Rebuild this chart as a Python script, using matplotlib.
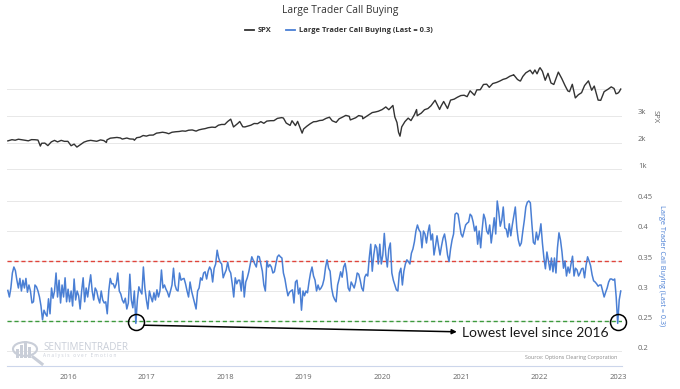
import matplotlib
matplotlib.use('Agg')
import matplotlib.pyplot as plt
import matplotlib.transforms as mtransforms
from matplotlib.lines import Line2D
from matplotlib.patches import Circle, Rectangle
import pandas as pd

# ---------------- data ----------------
title = "Large Trader Call Buying"
spx_label = "SPX"
ltcb_label = "Large Trader Call Buying (Last = 0.3)"
annotation_text = "Lowest level since 2016"
source_text = "Source: Options Clearing Corporation"
year_ticks = ["2016", "2017", "2018", "2019", "2020", "2021", "2022", "2023"]
spx_ticks = [1000, 2000, 3000, 4000]
spx_tick_labels = ["1k", "2k", "3k", ""]
ltcb_ticks = [0.2, 0.25, 0.3, 0.35, 0.4, 0.45]
ltcb_tick_labels = ["0.2", "0.25", "0.3", "0.35", "0.4", "0.45"]
upper_level = 0.35
lower_level = 0.25

spx_dates = [
    "2015-03-27", "2015-04-15", "2015-04-30", "2015-05-15", "2015-05-29", "2015-06-15", "2015-06-30",
    "2015-07-15", "2015-07-31", "2015-08-14", "2015-08-25", "2015-08-31", "2015-09-15", "2015-09-29",
    "2015-10-15", "2015-10-30", "2015-11-13", "2015-11-30", "2015-12-15", "2015-12-31",
    "2016-01-15", "2016-01-29", "2016-02-11", "2016-02-29", "2016-03-15", "2016-03-31", "2016-04-15",
    "2016-04-29", "2016-05-13", "2016-05-31", "2016-06-15", "2016-06-27", "2016-06-30", "2016-07-15",
    "2016-07-29", "2016-08-15", "2016-08-31", "2016-09-09", "2016-09-30", "2016-10-14", "2016-10-31",
    "2016-11-04", "2016-11-15", "2016-11-30", "2016-12-15", "2016-12-30",
    "2017-01-13", "2017-01-31", "2017-02-15", "2017-02-28", "2017-03-15", "2017-03-31", "2017-04-13",
    "2017-04-28", "2017-05-15", "2017-05-31", "2017-06-15", "2017-06-30", "2017-07-14", "2017-07-31",
    "2017-08-18", "2017-08-31", "2017-09-15", "2017-09-29", "2017-10-13", "2017-10-31", "2017-11-15",
    "2017-11-30", "2017-12-15", "2017-12-29",
    "2018-01-12", "2018-01-26", "2018-02-08", "2018-02-28", "2018-03-09", "2018-03-23", "2018-04-02",
    "2018-04-30", "2018-05-15", "2018-05-31", "2018-06-15", "2018-06-29", "2018-07-13", "2018-07-31",
    "2018-08-15", "2018-08-31", "2018-09-20", "2018-09-28", "2018-10-11", "2018-10-29", "2018-11-07",
    "2018-11-23", "2018-12-03", "2018-12-24", "2018-12-31",
    "2019-01-15", "2019-01-31", "2019-02-15", "2019-02-28", "2019-03-15", "2019-03-29", "2019-04-15",
    "2019-04-30", "2019-05-13", "2019-05-31", "2019-06-14", "2019-06-28", "2019-07-15", "2019-07-31",
    "2019-08-05", "2019-08-30", "2019-09-13", "2019-09-30", "2019-10-02", "2019-10-31", "2019-11-15",
    "2019-11-29", "2019-12-13", "2019-12-31",
    "2020-01-17", "2020-01-31", "2020-02-19", "2020-02-28", "2020-03-09", "2020-03-16", "2020-03-23",
    "2020-03-31", "2020-04-15", "2020-04-30", "2020-05-13", "2020-05-29", "2020-06-08", "2020-06-11",
    "2020-06-30", "2020-07-15", "2020-07-31", "2020-08-14", "2020-09-02", "2020-09-23", "2020-09-30",
    "2020-10-12", "2020-10-30", "2020-11-13", "2020-11-30", "2020-12-15", "2020-12-31",
    "2021-01-15", "2021-01-29", "2021-02-12", "2021-03-04", "2021-03-15", "2021-03-31", "2021-04-15",
    "2021-04-30", "2021-05-12", "2021-05-28", "2021-06-15", "2021-06-30", "2021-07-15", "2021-07-30",
    "2021-08-16", "2021-08-31", "2021-09-02", "2021-09-20", "2021-09-30", "2021-10-04", "2021-10-15",
    "2021-10-29", "2021-11-18", "2021-11-30", "2021-12-10", "2021-12-20", "2021-12-31",
    "2022-01-03", "2022-01-14", "2022-01-27", "2022-02-09", "2022-02-23", "2022-03-08", "2022-03-29",
    "2022-04-14", "2022-04-29", "2022-05-12", "2022-05-20", "2022-06-02", "2022-06-16", "2022-06-30",
    "2022-07-15", "2022-07-29", "2022-08-16", "2022-08-31", "2022-09-12", "2022-09-30", "2022-10-12",
    "2022-10-28", "2022-11-15", "2022-11-30", "2022-12-13", "2022-12-22", "2022-12-30",
    "2023-01-06", "2023-01-13",
]
spx_values = [
    2061, 2106, 2086, 2123, 2107, 2084, 2063,
    2108, 2104, 2092, 1867, 1972, 1978, 1884,
    2023, 2079, 2023, 2080, 2043, 2044,
    1880, 1940, 1829, 1932, 2015, 2060, 2081,
    2065, 2046, 2097, 2072, 2001, 2099, 2162,
    2174, 2190, 2171, 2128, 2168, 2133, 2126,
    2085, 2180, 2199, 2262, 2239,
    2275, 2279, 2350, 2364, 2385, 2363, 2329,
    2384, 2402, 2412, 2433, 2423, 2459, 2470,
    2426, 2472, 2500, 2519, 2553, 2575, 2564,
    2648, 2676, 2674,
    2786, 2873, 2581, 2714, 2786, 2588, 2582,
    2648, 2711, 2705, 2780, 2718, 2801, 2816,
    2818, 2902, 2931, 2914, 2728, 2641, 2814,
    2633, 2790, 2351, 2507,
    2610, 2704, 2776, 2784, 2822, 2834, 2905,
    2946, 2812, 2752, 2887, 2942, 3014, 2980,
    2844, 2926, 3007, 2977, 2887, 3038, 3120,
    3141, 3169, 3231,
    3330, 3226, 3386, 2954, 2746, 2386, 2237,
    2585, 2783, 2912, 2820, 3044, 3232, 3002,
    3100, 3227, 3271, 3373, 3580, 3237, 3363,
    3534, 3270, 3585, 3622, 3694, 3756,
    3768, 3714, 3934, 3768, 3968, 3973, 4170,
    4181, 4063, 4204, 4246, 4298, 4360, 4395,
    4479, 4523, 4537, 4358, 4308, 4300, 4471,
    4605, 4704, 4567, 4712, 4568, 4766,
    4796, 4663, 4327, 4587, 4225, 4170, 4632,
    4392, 4132, 3930, 3901, 4177, 3667, 3785,
    3863, 4130, 4305, 3955, 4110, 3586, 3577,
    3901, 3992, 4080, 4020, 3822, 3840,
    3895, 3999,
]

# weekly readings of Large Trader Call Buying (last week = 2023-01-13)
ltcb_end = "2023-01-13"
ltcb_values = [
    0.301, 0.290, 0.305, 0.330, 0.340, 0.334, 0.318, 0.305, 0.321, 0.300,
    0.318, 0.305, 0.321, 0.298, 0.310, 0.300, 0.280, 0.282, 0.310, 0.307,
    0.300, 0.290, 0.275, 0.252, 0.268, 0.262, 0.258, 0.287, 0.262, 0.305,
    0.288, 0.300, 0.330, 0.290, 0.318, 0.280, 0.310, 0.290, 0.322, 0.282,
    0.303, 0.282, 0.300, 0.275, 0.320, 0.285, 0.300, 0.292, 0.270, 0.300,
    0.322, 0.282, 0.305, 0.290, 0.310, 0.327, 0.300, 0.285, 0.305, 0.300,
    0.288, 0.280, 0.300, 0.285, 0.280, 0.282, 0.262, 0.300, 0.321, 0.312,
    0.312, 0.305, 0.312, 0.330, 0.300, 0.295, 0.285, 0.280, 0.288, 0.270,
    0.280, 0.328, 0.285, 0.272, 0.300, 0.246, 0.285, 0.307, 0.300, 0.295,
    0.340, 0.305, 0.285, 0.270, 0.300, 0.290, 0.282, 0.297, 0.285, 0.302,
    0.290, 0.300,
    0.335, 0.305, 0.310, 0.303, 0.298, 0.290, 0.300, 0.310, 0.338, 0.310,
    0.302, 0.300, 0.330, 0.318, 0.320, 0.321, 0.312, 0.300, 0.290, 0.315,
    0.300, 0.290, 0.280, 0.270, 0.300, 0.305, 0.322, 0.318, 0.330, 0.332,
    0.320, 0.333, 0.340, 0.335, 0.315, 0.338, 0.345, 0.368, 0.355, 0.348,
    0.345, 0.322, 0.329, 0.335, 0.348, 0.335, 0.330, 0.312, 0.290, 0.322,
    0.312, 0.318, 0.318, 0.300, 0.333, 0.290, 0.315, 0.322, 0.332, 0.345,
    0.357, 0.351, 0.345, 0.340, 0.358, 0.357, 0.345, 0.333, 0.310, 0.300,
    0.350, 0.340, 0.344, 0.340, 0.330, 0.332, 0.345, 0.357, 0.360, 0.357,
    0.355, 0.330, 0.320, 0.305, 0.292, 0.298, 0.300, 0.302, 0.280, 0.315,
    0.318, 0.295, 0.305, 0.268, 0.300, 0.292, 0.300, 0.297, 0.315, 0.330,
    0.340, 0.325, 0.318,
    0.300, 0.310, 0.302, 0.305, 0.310, 0.320, 0.340, 0.352, 0.338, 0.333,
    0.305, 0.292, 0.286, 0.282, 0.310, 0.320, 0.332, 0.323, 0.340, 0.346,
    0.330, 0.305, 0.300, 0.315, 0.310, 0.305, 0.315, 0.330, 0.328, 0.318,
    0.305, 0.300, 0.323, 0.328, 0.325, 0.355, 0.378, 0.333, 0.360, 0.377,
    0.372, 0.345, 0.378, 0.345, 0.360, 0.396, 0.360, 0.340, 0.370, 0.380,
    0.330, 0.318, 0.310, 0.302, 0.300, 0.330, 0.338, 0.310, 0.333, 0.345,
    0.352, 0.349, 0.345, 0.363, 0.370, 0.382, 0.400, 0.410, 0.402, 0.398,
    0.372, 0.400, 0.395, 0.380, 0.398, 0.410, 0.385, 0.395, 0.360, 0.375,
    0.392, 0.375, 0.360, 0.375, 0.388, 0.395, 0.380, 0.360, 0.349, 0.370,
    0.385, 0.395, 0.428, 0.430, 0.428, 0.412, 0.395, 0.390, 0.400, 0.410,
    0.413, 0.415, 0.428, 0.425,
    0.415, 0.400, 0.408, 0.378, 0.400, 0.372, 0.403, 0.428, 0.420, 0.400,
    0.395, 0.410, 0.380, 0.400, 0.422, 0.395, 0.450, 0.432, 0.408, 0.418,
    0.440, 0.405, 0.403, 0.390, 0.412, 0.392, 0.410, 0.425, 0.440, 0.405,
    0.385, 0.375, 0.380, 0.400, 0.418, 0.440, 0.448, 0.450, 0.447, 0.412,
    0.381, 0.378, 0.398, 0.385, 0.395, 0.412, 0.380, 0.355, 0.337, 0.365,
    0.350, 0.335, 0.355, 0.332, 0.355, 0.330, 0.372, 0.397, 0.385, 0.365,
    0.338, 0.350, 0.325, 0.340, 0.330, 0.345, 0.358, 0.325, 0.338, 0.335,
    0.325, 0.330, 0.337, 0.338, 0.322, 0.343, 0.357, 0.350, 0.342, 0.327,
    0.317, 0.315, 0.312, 0.308, 0.310, 0.310, 0.300, 0.290, 0.298, 0.305,
    0.315, 0.320, 0.320, 0.318, 0.320, 0.290, 0.246, 0.285, 0.300,
]

# ---------------- styling ----------------
W, H = 680, 389
DPI = 100
BLUE = "#4a7fd4"
DARK = "#333333"
GRID = "#e8e8e8"
TICK = "#666666"
FONT = ["Open Sans", "DejaVu Sans"]
plt.rcParams["font.family"] = FONT

fig = plt.figure(figsize=(W / DPI, H / DPI), dpi=DPI)


def fx(x):
    return x / W


def fy(y):
    return 1 - y / H


L, R = 7, 622
ax1 = fig.add_axes([fx(L), fy(197), fx(R) - fx(L), fy(62) - fy(197)])
ax2 = fig.add_axes([fx(L), fy(366), fx(R) - fx(L), fy(197) - fy(366)], sharex=ax1)

spx_x = pd.to_datetime(spx_dates)
ltcb_x = pd.date_range(end=ltcb_end, periods=len(ltcb_values), freq="7D")

xmin, xmax = pd.Timestamp("2015-03-23"), pd.Timestamp("2023-01-19")

for ax in (ax1, ax2):
    for s in ax.spines.values():
        s.set_visible(False)
    ax.set_xlim(xmin, xmax)
    ax.tick_params(axis="y", left=False, right=False, labelleft=False, labelright=False)
    ax.set_facecolor("none")

label_offset = mtransforms.ScaledTranslation(0, 3 / DPI, fig.dpi_scale_trans)
label_x = 1 + 16 / (R - L)

# top panel: SPX
ax1.plot(spx_x, spx_values, color=DARK, lw=1.0, solid_joinstyle="round")
ax1.set_ylim(-37, 5010)
for v, lab in zip(spx_ticks, spx_tick_labels):
    ax1.axhline(v, color=GRID, lw=0.7, zorder=0)
    if lab:
        ax1.text(label_x, v, lab, transform=ax1.get_yaxis_transform() + label_offset,
                 ha="left", va="center", fontsize=5.5, color=TICK)
ax1.tick_params(axis="x", bottom=False, labelbottom=False)
fig.text(fx(655), fy(117), spx_label, rotation=270, ha="center", va="center",
         fontsize=5.5, color=TICK)

# bottom panel: Large Trader Call Buying
ax2.plot(ltcb_x, ltcb_values, color=BLUE, lw=1.1, solid_joinstyle="round")
ax2.set_ylim(0.2 - 15 / 600, 0.45 + 4 / 600)
for v, lab in zip(ltcb_ticks, ltcb_tick_labels):
    ax2.axhline(v, color=GRID, lw=0.7, zorder=0)
    ax2.text(label_x, v, lab, transform=ax2.get_yaxis_transform() + label_offset,
             ha="left", va="center", fontsize=5.5, color=TICK)
ax2.axhline(upper_level, color="#e0453c", lw=1.0, ls=(0, (3, 2)), zorder=1)
ax2.axhline(lower_level, color="#3d9a3d", lw=1.0, ls=(0, (3, 2)), zorder=1)
fig.text(fx(661), fy(266), ltcb_label, rotation=270, ha="center", va="center",
         fontsize=5.2, color=BLUE)

ax2.spines["bottom"].set_visible(True)
ax2.spines["bottom"].set_color("#ccd6eb")
ax2.spines["bottom"].set_linewidth(0.8)
ax2.set_xticks(pd.to_datetime([f"{y}-01-01" for y in year_ticks]))
ax2.set_xticklabels(year_ticks)
ax2.tick_params(axis="x", length=0, pad=6, labelsize=5.5, labelcolor=TICK)

# annotation: circles at the two lows and arrow
lows_idx = [85, len(ltcb_values) - 3]
for i in lows_idx:
    ax2.plot([ltcb_x[i]], [ltcb_values[i] + 0.002], marker="o", ms=11.5, mfc="none",
             mec="black", mew=1.1, zorder=5, clip_on=False)
ax2.annotate("", xy=(pd.Timestamp("2020-12-12"), 0.232), xytext=(pd.Timestamp("2016-12-20"), 0.243),
             arrowprops=dict(arrowstyle="-|>", color="black", lw=1.1, mutation_scale=7,
                             shrinkA=0, shrinkB=0), zorder=5)
ax2.text(pd.Timestamp("2021-01-05"), 0.2305, annotation_text, ha="left", va="center",
         fontsize=10, color="#1a1a1a", family=["Lato", "DejaVu Sans"], zorder=5)

# title and legend
fig.text(0.5, fy(11), title, ha="center", va="center", fontsize=7.4, color=DARK)
leg_y = fy(30)
fig.add_artist(Line2D([fx(245), fx(254)], [leg_y, leg_y], color=DARK, lw=1.3))
fig.text(fx(258), leg_y, spx_label, ha="left", va="center", fontsize=5.4,
         fontweight="bold", color=DARK)
fig.add_artist(Line2D([fx(286), fx(295)], [leg_y, leg_y], color=BLUE, lw=1.3))
fig.text(fx(299), leg_y, ltcb_label, ha="left", va="center", fontsize=5.4,
         fontweight="bold", color=DARK)

# watermark
wm = "#c9ced8"
fig.add_artist(Circle((fx(25), fy(349)), 12 / W, transform=fig.transFigure, fill=False,
                      ec=wm, lw=1.5))
for bx, bh in [(16, 9), (20, 13), (24, 17), (28, 11)]:
    fig.add_artist(Rectangle((fx(bx), fy(358)), 3 / W, bh / H, transform=fig.transFigure,
                             color=wm, lw=0))
fig.add_artist(Line2D([fx(33), fx(42)], [fy(357), fy(364)], color=wm, lw=2.2))
fig.text(fx(43), fy(347), "SENTIMENTRADER", ha="left", va="center", fontsize=7.1, color=wm)
fig.text(fx(43), fy(356), "A n a l y s i s   o v e r   E m o t i o n", ha="left", va="center",
         fontsize=3.4, color=wm)
fig.text(fx(617), fy(358), source_text, ha="right", va="center", fontsize=3.8, color="#888888")

fig.savefig("out.png", dpi=DPI, facecolor="white")
